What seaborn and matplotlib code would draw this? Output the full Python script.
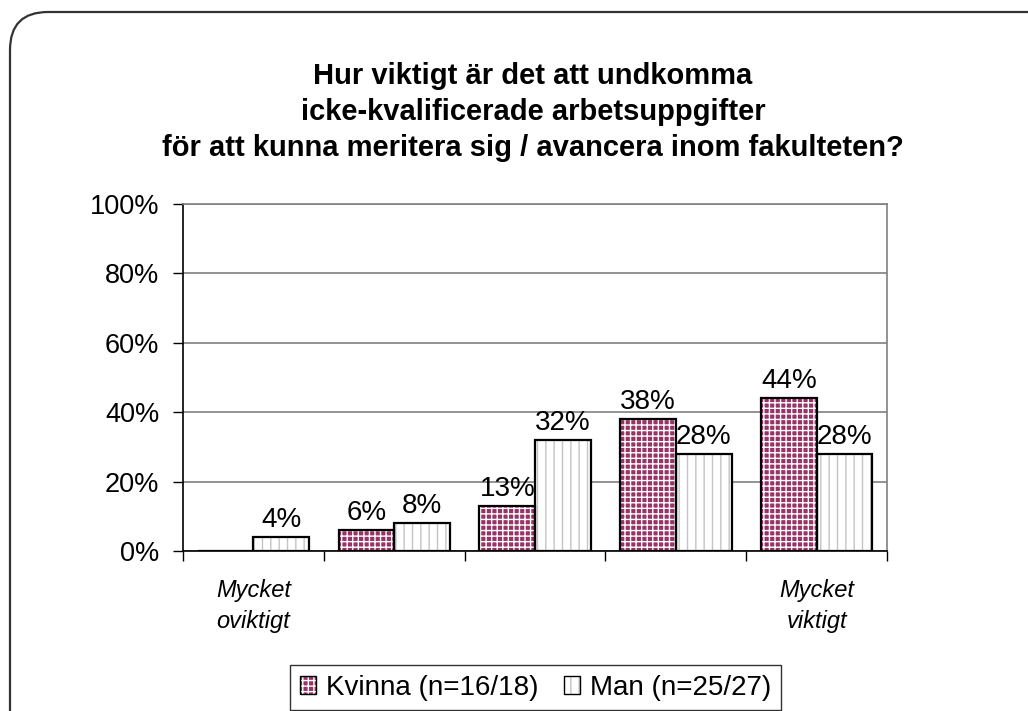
import pandas as pd
import matplotlib.pyplot as plt
import seaborn as sns
from matplotlib.patches import Patch, Rectangle, FancyBboxPatch

# data
kategorier = ["1", "2", "3", "4", "5"]
kategori_etiketter = ["Mycket\noviktigt", "", "", "", "Mycket\nviktigt"]
serier = ["Kvinna (n=16/18)", "Man (n=25/27)"]
kvinna = [0, 6, 13, 38, 44]
man = [4, 8, 32, 28, 28]
y_ticks = [0, 20, 40, 60, 80, 100]
titel = ("Hur viktigt är det att undkomma\n"
         "icke-kvalificerade arbetsuppgifter\n"
         "för att kunna meritera sig / avancera inom fakulteten?")

df = pd.DataFrame({
    "kategori": kategorier * 2,
    "kon": [serier[0]] * len(kvinna) + [serier[1]] * len(man),
    "andel": kvinna + man,
})

sns.set_style("white")
plt.rcParams["font.family"] = ["Liberation Sans", "DejaVu Sans"]
plt.rcParams["hatch.linewidth"] = 1.0
plt.rcParams["text.color"] = "black"
plt.rcParams["xtick.color"] = "black"
plt.rcParams["ytick.color"] = "black"

fig = plt.figure(figsize=(10.28, 7.11), dpi=100)
ax = fig.add_axes([0.178, 0.225, 0.685, 0.488])

farger = {serier[0]: "#993366", serier[1]: "white"}
sns.barplot(data=df, x="kategori", y="andel", hue="kon", order=kategorier,
            hue_order=serier, palette=farger, saturation=1, width=0.79,
            legend=False, ax=ax, zorder=3)

# pattern fill + separate black outline
monster = [("+++", "white"), ("||", "#c4c4c4")]
for cont, (hatch, hcol), varden in zip(ax.containers, monster, [kvinna, man]):
    for bar in cont:
        bar.set_hatch(hatch)
        bar.set_edgecolor(hcol)
        bar.set_linewidth(0)
        ax.add_patch(Rectangle(bar.get_xy(), bar.get_width(), bar.get_height(),
                               fill=False, ec="black", lw=1.6, zorder=4))
    ax.bar_label(cont, labels=[f"{v}%" if v > 0 else "" for v in varden],
                 padding=3, fontsize=20)

ax.set_ylim(0, 100)
ax.set_xlim(-0.5, len(kategorier) - 0.5)
ax.set_yticks(y_ticks)
ax.set_yticklabels([f"{t}%" for t in y_ticks], fontsize=19.5)
ax.yaxis.grid(True, color="#808080", lw=1.2)
ax.set_axisbelow(True)

ax.set_xticks([i - 0.5 for i in range(len(kategorier) + 1)])
ax.set_xticklabels([])
ax.set_xticks(range(len(kategorier)), minor=True)
ax.set_xticklabels(kategori_etiketter, minor=True, fontsize=17,
                   style="italic", linespacing=1.45)
ax.tick_params(axis="x", which="major", bottom=True, length=7, width=1, color="black")
ax.tick_params(axis="x", which="minor", bottom=True, length=0, pad=20)
ax.tick_params(axis="y", left=True, length=7, width=1, color="black", pad=10)
ax.set_xlabel("")
ax.set_ylabel("")

for side in ["left", "bottom"]:
    ax.spines[side].set_color("black")
    ax.spines[side].set_linewidth(1.2)
for side in ["top", "right"]:
    ax.spines[side].set_color("#808080")
    ax.spines[side].set_linewidth(1.2)

fig.text(0.5185, 0.8425, titel, ha="center", va="center", fontsize=21,
         fontweight="bold", linespacing=1.37)

handtag = [
    (Patch(facecolor="#993366", edgecolor="white", hatch="+++", lw=0),
     Patch(fill=False, edgecolor="black", lw=1)),
    (Patch(facecolor="white", edgecolor="#c4c4c4", hatch="||", lw=0),
     Patch(fill=False, edgecolor="black", lw=1)),
]
leg = fig.legend(handtag, serier, loc="upper left",
                 bbox_to_anchor=(290 / 1028, 1 - 665 / 711), ncol=2,
                 frameon=True, fancybox=False, edgecolor="black", fontsize=20,
                 handlelength=0.6, handleheight=0.6, handletextpad=0.35,
                 columnspacing=0.9, borderpad=0.35, borderaxespad=0)
leg.get_frame().set_linewidth(1)

ram = FancyBboxPatch((0.10, -0.6), 10.6, 7.59,
                     boxstyle="round,pad=0,rounding_size=0.38",
                     transform=fig.dpi_scale_trans, fill=False,
                     ec="#333333", lw=1.6)
fig.add_artist(ram)

fig.savefig("out.png", dpi=100)
